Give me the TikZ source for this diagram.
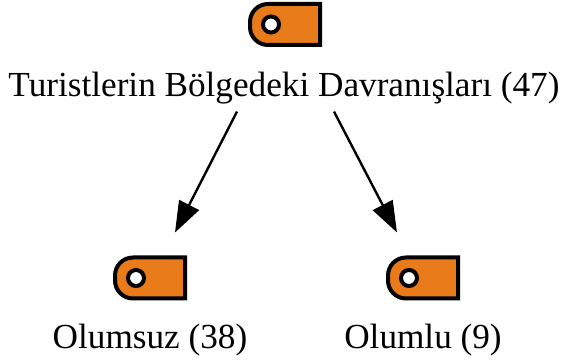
\documentclass[tikz,border=0pt]{standalone}
\usepackage{fontspec}
\setmainfont{Liberation Serif}
\usetikzlibrary{arrows.meta,calc}
\definecolor{tagorange}{HTML}{E97B1B}
\tikzset{
  x=1pt,y=-1pt,
  tagbox/.style={minimum width=70pt,minimum height=41pt,inner sep=0pt,outer sep=0pt},
  tagline/.style={draw=black,fill=tagorange,line width=4pt,line join=miter},
  holeline/.style={draw=black,fill=white,line width=4pt},
  labeltext/.style={font=\fontsize{35.2}{36}\selectfont,anchor=base,inner sep=0pt,outer sep=0pt},
  arrowline/.style={draw=black,line width=2.4pt,-{Triangle[length=31pt,width=22pt]}},
}
\newcommand{\tagat}[2]{%
  \node[tagbox] (#1) at (#2) {};
  \draw[tagline] (#1.north east) -- (#1.south east) -- ($(#1.south west)+(18,0)$)
    arc[start angle=90,end angle=180,radius=18] -- ++(0,-5)
    arc[start angle=180,end angle=270,radius=18] -- cycle;
  \draw[holeline] ($(#1.west)+(21,0)$) circle[radius=8];
}
\begin{document}
\begin{tikzpicture}
\useasboundingbox (0,0) rectangle (563,363);
\tagat{tagT}{285,24.5}
\tagat{tagL}{150,278}
\tagat{tagR}{423,278}
\node[labeltext] (top) at (284,97) {Turistlerin Bölgedeki Davranışları (47)};
\node[labeltext] (left) at (150,349) {Olumsuz (38)};
\node[labeltext] (right) at (423,349) {Olumlu (9)};
\draw[arrowline] ($(top.south)+(-47,7)$) -- ($(tagL.north)+(25,-25)$);
\draw[arrowline] ($(top.south)+(50,7)$) -- ($(tagR.north)+(-26,-25)$);
\end{tikzpicture}
\end{document}
